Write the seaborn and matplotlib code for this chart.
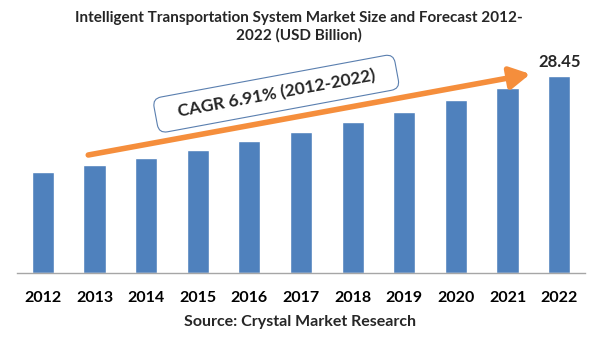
import matplotlib
matplotlib.use("Agg")
import matplotlib.pyplot as plt
import seaborn as sns
import pandas as pd

years = ["2012", "2013", "2014", "2015", "2016", "2017", "2018", "2019", "2020", "2021", "2022"]
market_size = [14.6, 15.6, 16.6, 17.8, 19.1, 20.4, 21.8, 23.2, 25.0, 26.7, 28.45]
title = "Intelligent Transportation System Market Size and Forecast 2012-\n2022 (USD Billion)"
cagr_label = "CAGR 6.91% (2012-2022)"
source = "Source: Crystal Market Research"

sns.set_theme(style="white")
plt.rcParams['font.family'] = ['Lato', 'DejaVu Sans']
plt.rcParams['font.weight'] = 'bold'

df = pd.DataFrame({"year": years, "size": market_size})

fig = plt.figure(figsize=(6.01, 3.61), dpi=100)
ax = fig.add_axes([17 / 601, 1 - 273 / 361, 568 / 601, 213 / 361])
sns.barplot(data=df, x="year", y="size", color="#4F81BD", saturation=1, width=0.43, ax=ax)

ax.set_xlim(-0.5, len(years) - 0.5)
ax.set_ylim(0, 30.76)
ax.set_xlabel("")
ax.set_ylabel("")
ax.set_yticks([])
for s in ["top", "right", "left"]:
    ax.spines[s].set_visible(False)
ax.spines["bottom"].set_color("#A6A6A6")
ax.spines["bottom"].set_linewidth(1)
ax.tick_params(axis="x", which="major", length=0, pad=13, labelsize=11.5, colors="black")
ax.set_xticks([i - 0.5 for i in range(len(years) + 1)], minor=True)
ax.tick_params(axis="x", which="minor", length=5, color="#A6A6A6", width=1)
for lab in ax.get_xticklabels():
    lab.set_fontweight("bold")

# last value label
ax.text(len(years) - 1, market_size[-1] + 0.8, f"{market_size[-1]:.2f}", ha="center", va="bottom",
        fontsize=12, fontweight="bold")

# growth arrow
ax.annotate("", xy=(9.44, 28.74), xytext=(0.88, 17.04),
            arrowprops=dict(arrowstyle="-|>,head_length=1.0,head_width=0.55", lw=4,
                            color="#F58E3C", shrinkA=0, shrinkB=0, mutation_scale=12))

# CAGR box
ax.text(4.52, 25.9, "   " + cagr_label + "   ", rotation=10.5, rotation_mode="anchor",
        ha="center", va="center", fontsize=12.5, fontweight="bold",
        bbox=dict(boxstyle="round,pad=0.55,rounding_size=0.5", fc="white", ec="#5A7FAF", lw=0.8))

fig.text(0.497, 1 - 27 / 361, title, ha="center", va="center", fontsize=11, fontweight="bold",
         linespacing=1.3)
fig.text(0.5, 1 - 322 / 361, source, ha="center", va="center", fontsize=11.5, fontweight="bold")

fig.savefig("out.png", dpi=100)
